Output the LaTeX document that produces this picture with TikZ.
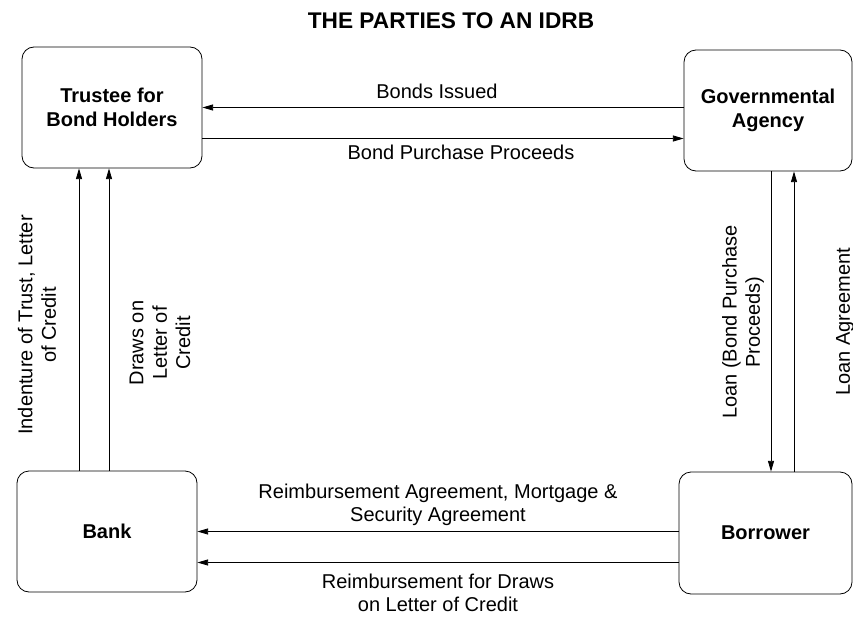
\documentclass[tikz,border=0pt]{standalone}
\usepackage{fontspec}
\setmainfont{Liberation Sans}
\usetikzlibrary{arrows.meta}

\begin{document}
\begin{tikzpicture}[x=0.75pt,y=-0.75pt,
		box/.style={draw,rounded corners=9pt,line width=0.6pt,inner sep=0pt,
			align=center,font=\bfseries\fontsize{15}{18.5}\selectfont},
		lbl/.style={inner sep=0pt,align=center,font=\fontsize{15}{17.5}\selectfont},
		arr/.style={line width=0.6pt,-{Triangle[length=8pt,width=4.5pt]}}]
		\useasboundingbox (0,0) rectangle (853,617);
		% title
		\node[lbl,font=\bfseries\fontsize{17}{20}\selectfont] (title) at (451,21) {THE PARTIES TO AN IDRB};
		% the four parties
		\node[box,minimum width=135pt,minimum height=90.75pt] (trustee) at (112,107.5) {Trustee for\\Bond Holders};
		\node[box,minimum width=126pt,minimum height=90.75pt] (agency) at (768,110.5) {Governmental\\Agency};
		\node[box,minimum width=135pt,minimum height=90.75pt] (bank) at (107,531.5) {Bank};
		\node[box,minimum width=129.75pt,minimum height=91.5pt] (borrower) at (765.5,533) {Borrower};
		% top pair
		\draw[arr] (agency.west |- trustee.east) -- (trustee.east);
		\coordinate (bpp) at ([yshift=-23.25pt]trustee.east);
		\draw[arr] (bpp) -- (bpp -| agency.west);
		% left pair
		\coordinate (indent) at ([xshift=-21pt]bank.north);
		\draw[arr] (indent) -- (indent |- trustee.south);
		\coordinate (draws) at ([xshift=1.5pt]bank.north);
		\draw[arr] (draws) -- (draws |- trustee.south);
		% right pair
		\coordinate (loan) at ([xshift=2.25pt]agency.south);
		\draw[arr] (loan) -- (loan |- borrower.north);
		\coordinate (loanagr) at ([xshift=19.5pt]agency.south);
		\draw[arr] (loanagr |- borrower.north) -- (loanagr);
		% bottom pair
		\draw[arr] (borrower.west |- bank.east) -- (bank.east);
		\coordinate (reimb) at ([yshift=-23.25pt]bank.east);
		\draw[arr] (reimb -| borrower.west) -- (reimb);
		% labels
		\node[lbl] (issued) at (437,91) {Bonds Issued};
		\node[lbl] (proceeds) at (461,152) {Bond Purchase Proceeds};
		\node[lbl,rotate=90] (indentlbl) at (37,325) {Indenture of Trust, Letter\\of Credit};
		\node[lbl,rotate=90] (drawslbl) at (160,343) {Draws on\\Letter of\\Credit};
		\node[lbl,rotate=90] (loanlbl) at (743,322) {Loan (Bond Purchase\\Proceeds)};
		\node[lbl,rotate=90] (loanagrlbl) at (845,322) {Loan Agreement};
		\node[lbl] (reimblbl) at (438,505) {Reimbursement Agreement, Mortgage \&\\Security Agreement};
		\node[lbl] (drawsreimb) at (438,593) {Reimbursement for Draws\\on Letter of Credit};
	\end{tikzpicture}
\end{document}
